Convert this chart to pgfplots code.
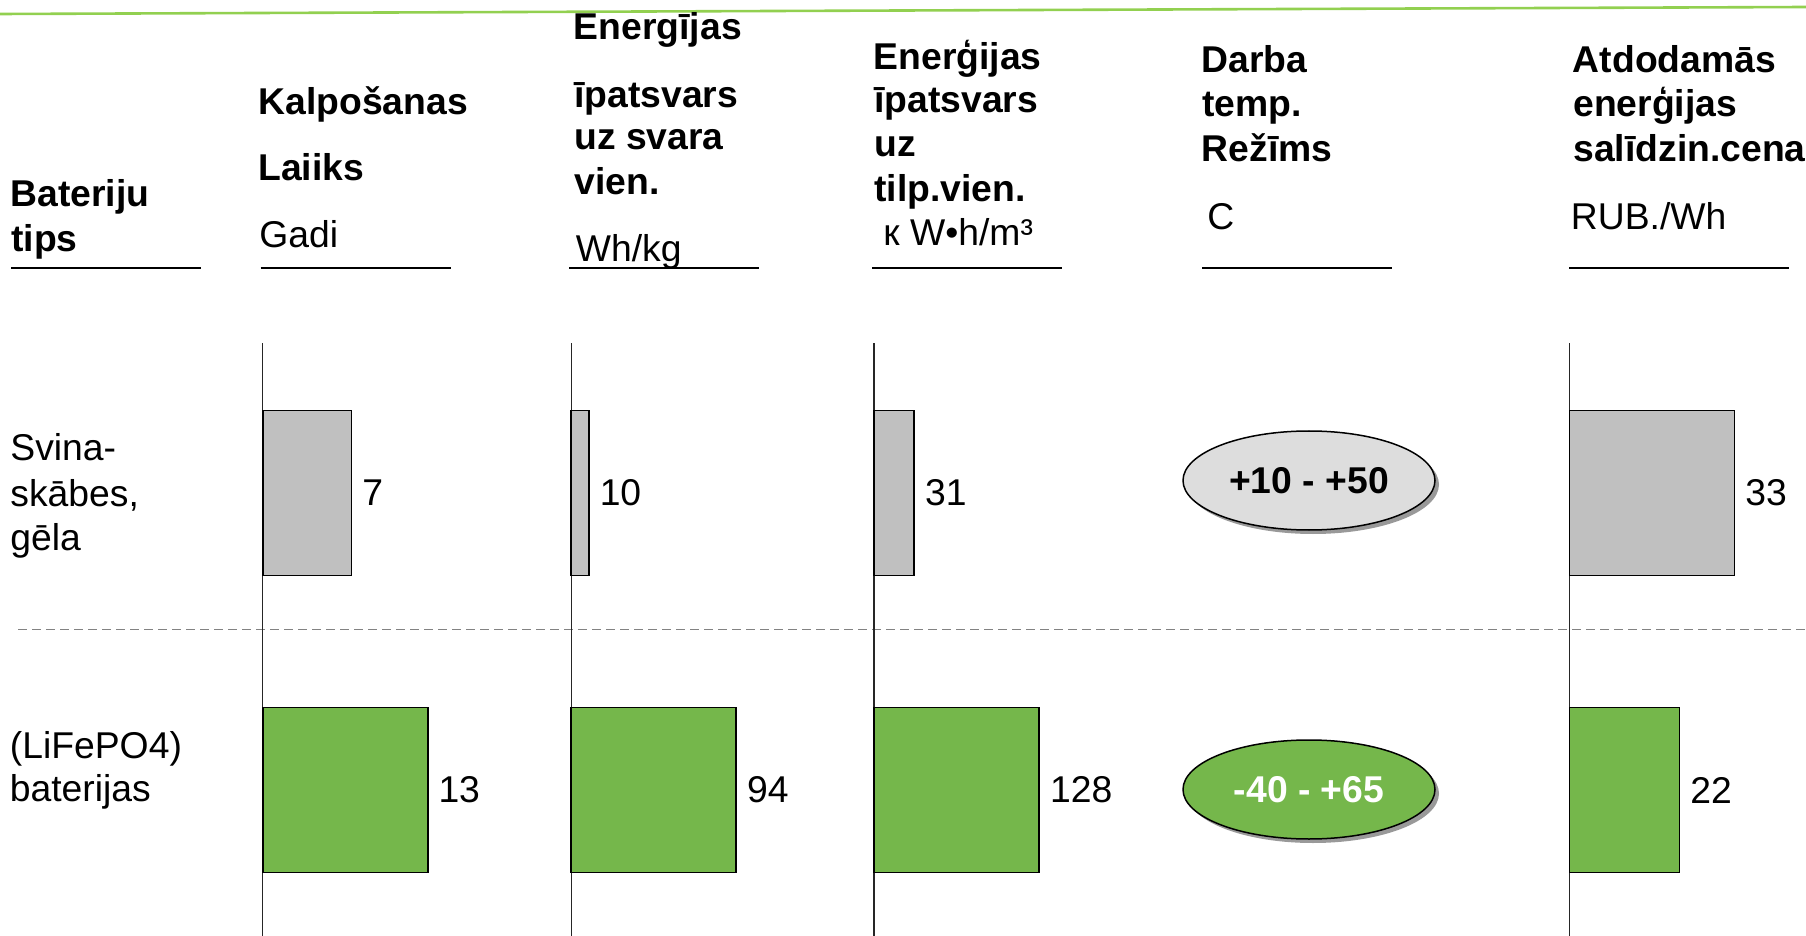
\documentclass[border=0pt]{standalone}
\usepackage{fontspec}
\setmainfont{Liberation Sans}
\usepackage{pgfplots}
\pgfplotsset{compat=1.18}
\usetikzlibrary{shapes.geometric,shadows}
\definecolor{barGray}{RGB}{192,192,192}
\definecolor{barGreen}{RGB}{117,183,75}
\definecolor{topGreen}{RGB}{146,208,80}
\definecolor{ellGray}{RGB}{221,221,221}
\definecolor{dashGray}{RGB}{130,130,130}
\newcommand\fs{\fontsize{18.65}{22}\selectfont}
\pgfplotsset{
  colbar/.style={
    xbar, scale only axis, width=82.5pt, height=296.5pt,
    xmin=0, ymin=343, ymax=936, y dir=reverse,
    axis x line=none, axis y line=left,
    y axis line style={-, line width=0.75pt, color=black!85},
    xtick=\empty, ytick=\empty, clip=false, bar width=165,
    nodes near coords,
    every node near coord/.append style={font=\fs, text=black, inner sep=5pt, anchor=west},
    /pgf/number format/assume math mode=true,
    anchor=north west,
  },
  gbar/.style={fill=barGray, draw=black, line width=0.9pt, bar shift=0pt},
  lbar/.style={fill=barGreen, draw=black, line width=0.9pt, bar shift=0pt},
}
\begin{document}
\begin{tikzpicture}
\path[use as bounding box] (0,0) rectangle (903pt,-468pt);
\begin{scope}[x=0.5pt,y=-0.5pt]
  \draw[topGreen, line width=1.3pt] (0,14) -- (1806,7);
  \draw[dashGray, line width=0.95pt, dash pattern=on 4.5pt off 2.5pt] (18,629.5) -- (1806,629.5);
  % underlines
  \draw[line width=1pt] (11,268) -- (201,268);
  \draw[line width=1pt] (260.7,268) -- (450.7,268);
  \draw[line width=1pt] (569.3,268) -- (759.3,268);
  \draw[line width=1pt] (872.3,268) -- (1062.3,268);
  \draw[line width=1pt] (1202.3,268) -- (1392.3,268);
  \draw[line width=1pt] (1569,268) -- (1789,268);
  \tikzset{hdr/.style={anchor=base west, inner sep=0pt, font=\fs\bfseries},
           txt/.style={anchor=base west, inner sep=0pt, font=\fs}}
  % column 0
  \node[hdr] at (10,207) {Bateriju};
  \node[hdr] at (11,252) {tips};
  \node[txt] at (10,460.7) {Svina-};
  \node[txt] at (10,506) {skābes,};
  \node[txt] at (10,550.5) {gēla};
  \node[txt] at (9.5,758.3) {(LiFePO4)};
  \node[txt] at (9.5,801.7) {baterijas};
  % column 1
  \node[hdr] at (258,114.3) {Kalpošanas};
  \node[hdr] at (258,181) {Laiiks};
  \node[txt] at (259,247.7) {Gadi};
  % column 2
  \node[hdr] at (573.5,40) {Energījas};
  \node[hdr] at (574,107.3) {īpatsvars};
  \node[hdr] at (574,150) {uz svara};
  \node[hdr] at (574,195) {vien.};
  \node[txt] at (575.5,261.7) {Wh/kg};
  % column 3
  \node[hdr] at (873.3,69.3) {Enerģijas};
  \node[hdr] at (874,113) {īpatsvars};
  \node[hdr] at (874,157) {uz};
  \node[hdr] at (874,201.5) {tilp.vien.};
  \node[txt] at (883,246) {к W•h/m³};
  % column 4
  \node[hdr] at (1201.3,72.7) {Darba};
  \node[hdr] at (1202,116.7) {temp.};
  \node[hdr] at (1201.3,161.7) {Režīms};
  \node[txt] at (1207,230) {C};
  % column 5
  \node[hdr] at (1572.5,72.7) {Atdodamās};
  \node[hdr] at (1573,116.7) {enerģijas};
  \node[hdr] at (1573,161.7) {salīdzin.cena};
  \node[txt] at (1570.5,230) {RUB./Wh};
  % temperature ellipses
  \node[ellipse, draw=black, line width=0.75pt, fill=ellGray, minimum width=126pt,
        minimum height=49.5pt, inner sep=0pt, font=\fs\bfseries,
        drop shadow={shadow xshift=2pt, shadow yshift=-2pt, fill=black!40, opacity=1}]
        at (1309,480.5) {+10 - +50};
  \node[ellipse, draw=black, line width=0.75pt, fill=barGreen, minimum width=126pt,
        minimum height=49.5pt, inner sep=0pt, font=\fs\bfseries, text=white,
        drop shadow={shadow xshift=2pt, shadow yshift=-2pt, fill=black!40, opacity=1}]
        at (1309,789.5) {-40 - +65};
\end{scope}
% Kalposanas laiiks (gadi)
\begin{axis}[colbar, at={(131.3pt,-171.5pt)}, xmax=13]
  \addplot[gbar] coordinates {(7,493)};
  \addplot[lbar] coordinates {(13,790)};
\end{axis}
% Energijas ipatsvars uz svara vien. (Wh/kg)
\begin{axis}[colbar, at={(285.65pt,-171.5pt)}, xmax=94]
  \addplot[gbar] coordinates {(10,493)};
  \addplot[lbar] coordinates {(94,790)};
\end{axis}
% Energijas ipatsvars uz tilp.vien.
\begin{axis}[colbar, at={(437.1pt,-171.5pt)}, xmax=128]
  \addplot[gbar] coordinates {(31,493)};
  \addplot[lbar] coordinates {(128,790)};
\end{axis}
% Atdodamas energijas salidzin.cena (RUB./Wh)
\begin{axis}[colbar, at={(784.75pt,-171.5pt)}, xmax=33]
  \addplot[gbar] coordinates {(33,493)};
  \addplot[lbar] coordinates {(22,790)};
\end{axis}
\end{tikzpicture}
\end{document}
